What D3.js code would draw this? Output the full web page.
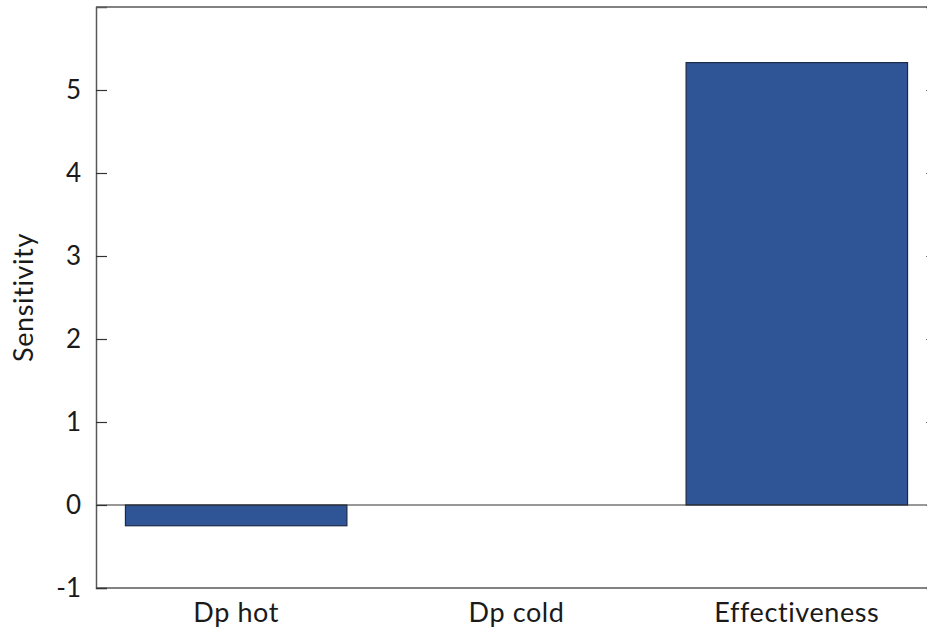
<!DOCTYPE html>
<html>
<head>
<meta charset="utf-8">
<script src="https://cdn.jsdelivr.net/npm/d3@7/dist/d3.min.js"></script>
<style>
  html, body { margin: 0; padding: 0; background: #fff; }
  svg { display: block; }
  text { font-family: Lato, "Open Sans", sans-serif; fill: #1a1a1a; }
</style>
</head>
<body>
<svg id="chart" width="927" height="632"></svg>
<script>
// Sensitivity of each parameter
const categories = ["Dp hot", "Dp cold", "Effectiveness"];
const sensitivity = [-0.25, 0.0, 5.33];
const yTicks = [-1, 0, 1, 2, 3, 4, 5];

const W = 927, H = 632;
const margin = { top: 7, right: -10, bottom: 44, left: 96 };
const innerW = W - margin.left - margin.right;
const innerH = H - margin.top - margin.bottom;
const font = "Lato, 'Open Sans', sans-serif";

const svg = d3.select("#chart");
const g = svg.append("g").attr("transform", `translate(${margin.left},${margin.top})`);

const x = d3.scaleBand().domain(categories).range([0, innerW]).paddingInner(0.21).paddingOuter(0.105);
const y = d3.scaleLinear().domain([-1, 6]).range([innerH, 0]);

const axisColor = "#595959";

// frame: top and bottom edges
g.append("line").attr("x1", 0).attr("x2", innerW).attr("y1", 0).attr("y2", 0)
  .attr("stroke", axisColor).attr("stroke-width", 1.5);
g.append("line").attr("x1", 0).attr("x2", innerW).attr("y1", innerH).attr("y2", innerH)
  .attr("stroke", axisColor).attr("stroke-width", 1.5);

// bars
g.selectAll("rect.bar").data(categories).join("rect")
  .attr("class", "bar")
  .attr("x", d => x(d))
  .attr("width", x.bandwidth())
  .attr("y", (d, i) => y(Math.max(0, sensitivity[i])))
  .attr("height", (d, i) => Math.abs(y(sensitivity[i]) - y(0)))
  .attr("fill", "#2f5597")
  .attr("stroke", "#1b2a45")
  .attr("stroke-width", 1.2);

// zero line
g.append("line").attr("x1", 0).attr("x2", innerW).attr("y1", y(0)).attr("y2", y(0))
  .attr("stroke", "#333").attr("stroke-width", 1.2);

// left axis with inward ticks
const yAxis = g.append("g")
  .call(d3.axisLeft(y).tickValues(yTicks).tickSize(-11).tickPadding(15).tickFormat(d => String(d)));
yAxis.select(".domain").attr("stroke", axisColor).attr("stroke-width", 1.5);
yAxis.selectAll(".tick line").attr("stroke", "#333").attr("stroke-width", 1.2);
yAxis.selectAll(".tick text").attr("font-size", 26).attr("fill", "#1a1a1a")
  .style("font-family", font);

// right axis, ticks only, pointing inward
const yAxisR = g.append("g").attr("transform", `translate(${innerW},0)`)
  .call(d3.axisRight(y).tickValues(yTicks).tickSize(-11).tickFormat(""));
yAxisR.select(".domain").attr("stroke", axisColor).attr("stroke-width", 1.5);
yAxisR.selectAll(".tick line").attr("stroke", "#777").attr("stroke-width", 1.2);

// category labels
const xAxis = g.append("g").attr("transform", `translate(0,${innerH})`)
  .call(d3.axisBottom(x).tickSize(0).tickPadding(15));
xAxis.select(".domain").remove();
xAxis.selectAll(".tick text").attr("font-size", 27).attr("fill", "#1a1a1a")
  .attr("letter-spacing", 0.6)
  .style("font-family", font);

// y axis title
svg.append("text")
  .attr("transform", `translate(33,${margin.top + y(2.5)}) rotate(-90)`)
  .attr("text-anchor", "middle")
  .attr("font-size", 27)
  .attr("letter-spacing", 0.6)
  .style("font-family", font)
  .text("Sensitivity");
</script>
</body>
</html>
